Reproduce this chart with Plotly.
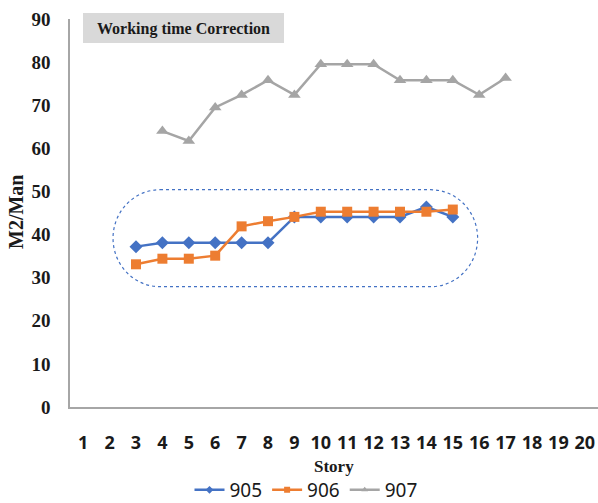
import plotly.graph_objects as go

# ---- data ----
stories = list(range(1, 21))
x905 = [3, 4, 5, 6, 7, 8, 9, 10, 11, 12, 13, 14, 15]
y905 = [37.2, 38.1, 38.1, 38.1, 38.1, 38.1, 44.1, 44.1, 44.1, 44.1, 44.1, 46.4, 44.1]
x906 = [3, 4, 5, 6, 7, 8, 9, 10, 11, 12, 13, 14, 15]
y906 = [33.1, 34.4, 34.4, 35.1, 41.9, 43.1, 44.1, 45.3, 45.3, 45.3, 45.3, 45.3, 45.8]
x907 = [4, 5, 6, 7, 8, 9, 10, 11, 12, 13, 14, 15, 16, 17]
y907 = [64.0, 61.7, 69.5, 72.4, 75.8, 72.4, 79.5, 79.5, 79.5, 75.8, 75.8, 75.8, 72.4, 76.3]
y_ticks = [0, 10, 20, 30, 40, 50, 60, 70, 80, 90]
series_names = ["905", "906", "907"]
colors = ["#4472C4", "#ED7D31", "#A5A5A5"]
symbols = ["diamond", "square", "triangle-up"]

# highlight region (data units)
hx0, hx1, hy0, hy1 = 2.13, 15.94, 27.9, 50.4

W, H = 598, 503
ML, MR, MT, MB = 70, 0, 19, 96

fig = go.Figure()
for xs, ys, nm, c, s, ms in zip([x905, x906, x907], [y905, y906, y907],
                                series_names, colors, symbols, [10, 10, 11]):
    fig.add_trace(go.Scatter(x=xs, y=ys, name=nm, mode="lines+markers", showlegend=False,
                             line=dict(color=c, width=2.5),
                             marker=dict(symbol=s, size=ms, color=c)))
# legend entries (small markers, as in the reference legend)
for nm, c, s in zip(series_names, colors, symbols):
    fig.add_trace(go.Scatter(x=[None], y=[None], name=nm, mode="lines+markers",
                             line=dict(color=c, width=2.5),
                             marker=dict(symbol=s, size=6, color=c)))

# stadium-shaped dotted outline
pw = W - ML - MR
rx = 47 / (pw / 20.0)
ry = (hy1 - hy0) / 2
ym = (hy0 + hy1) / 2
k = 0.5523
p = (f"M {hx0+rx},{hy1} L {hx1-rx},{hy1} "
     f"C {hx1-rx+k*rx},{hy1} {hx1},{ym+k*ry} {hx1},{ym} "
     f"C {hx1},{ym-k*ry} {hx1-rx+k*rx},{hy0} {hx1-rx},{hy0} "
     f"L {hx0+rx},{hy0} "
     f"C {hx0+rx-k*rx},{hy0} {hx0},{ym-k*ry} {hx0},{ym} "
     f"C {hx0},{ym+k*ry} {hx0+rx-k*rx},{hy1} {hx0+rx},{hy1} Z")
fig.add_shape(type="path", path=p, xref="x", yref="y",
              line=dict(color="#4472C4", width=1.2, dash="dot"), layer="below")

ph = H - MT - MB
def py(pix):
    return (H - MB - pix) / ph
def px(pix):
    return (pix - ML) / pw

# title box
fig.add_shape(type="rect", xref="paper", yref="paper",
              x0=px(83), x1=px(284), y0=py(43), y1=py(13),
              fillcolor="#D9D9D9", line=dict(width=0), layer="below")
fig.add_annotation(text="Working time Correction", xref="paper", yref="paper",
                   x=px(183.5), y=py(28.5), showarrow=False,
                   xanchor="center", yanchor="middle",
                   font=dict(family="Liberation Serif", size=16, color="#1a1a1a", weight="bold"))

# axis titles
fig.add_annotation(text="M2/Man", xref="paper", yref="paper",
                   x=px(16), y=py(212), showarrow=False, textangle=-90,
                   xanchor="center", yanchor="middle",
                   font=dict(family="Liberation Serif", size=20, color="#1a1a1a", weight="bold"))
fig.add_annotation(text="Story", xref="paper", yref="paper",
                   x=px(334), y=py(467), showarrow=False,
                   xanchor="center", yanchor="middle",
                   font=dict(family="Liberation Serif", size=17, color="#1a1a1a", weight="bold"))

fig.update_layout(
    width=W, height=H,
    margin=dict(l=ML, r=MR, t=MT, b=MB, autoexpand=False),
    paper_bgcolor="white", plot_bgcolor="white",
    showlegend=True,
    legend=dict(orientation="h", xref="container", yref="container",
                x=306 / W, xanchor="center", y=1 - 490 / H, yanchor="middle",
                font=dict(family="Noto Sans", size=19, color="#1a1a1a"),
                itemwidth=30, tracegroupgap=0, bgcolor="rgba(0,0,0,0)"),
    xaxis=dict(range=[0.5, 20.5], tickmode="array", tickvals=stories,
               ticktext=[str(s) for s in stories],
               showgrid=False, zeroline=False, showline=True,
               linecolor="#A6A6A6", linewidth=1.5, ticks="",
               ticklabelstandoff=19,
               tickfont=dict(family="Noto Sans", size=18, color="#1a1a1a", weight="bold")),
    yaxis=dict(range=[0, 90], tickmode="array", tickvals=y_ticks,
               showgrid=False, zeroline=False, showline=True,
               linecolor="#A6A6A6", linewidth=1.5, ticks="",
               ticklabelstandoff=14,
               tickfont=dict(family="Liberation Serif", size=19, color="#1a1a1a", weight="bold")),
)

fig.write_html("out.html")
